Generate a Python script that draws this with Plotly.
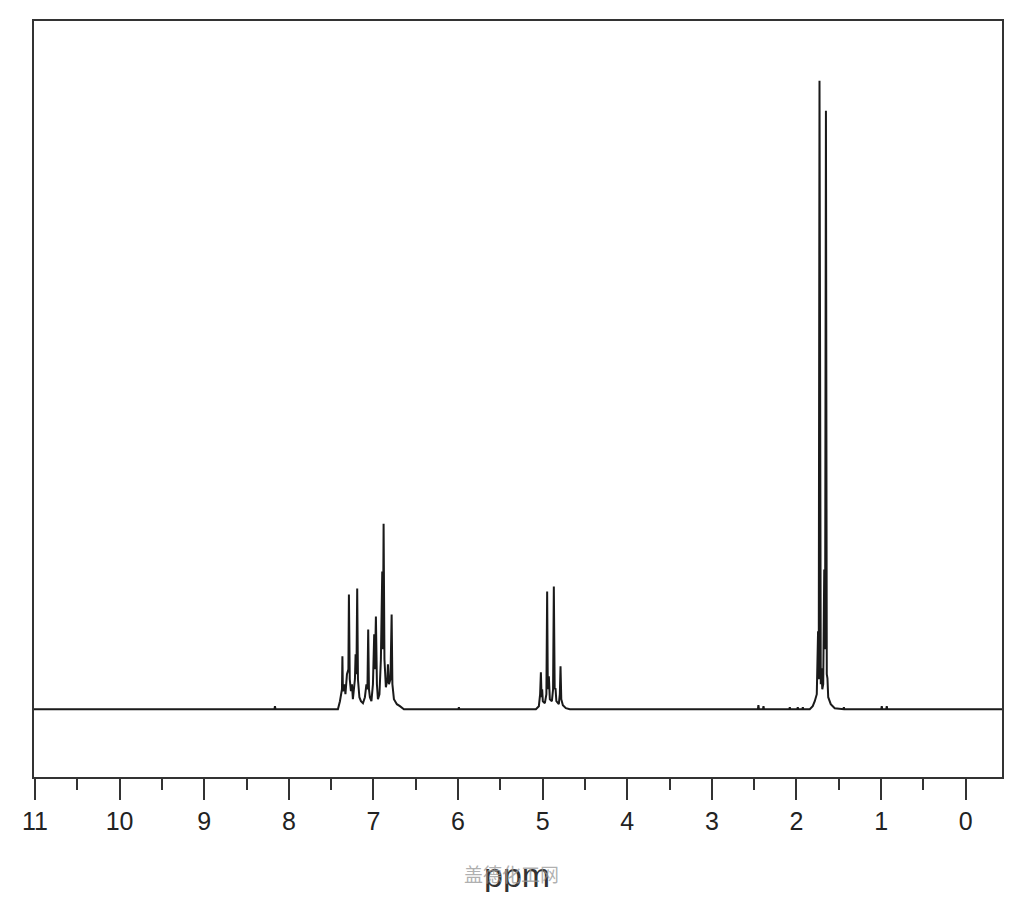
import plotly.graph_objects as go

# ---- data (chemical shift in ppm, relative intensity) ----
# aromatic multiplet 6.6-7.45 ppm
arom_ppm = [7.420, 7.396, 7.372, 7.367, 7.361, 7.343, 7.331, 7.313, 7.296, 7.290, 7.280,
            7.266, 7.254, 7.243, 7.219, 7.211, 7.201, 7.192, 7.183, 7.166, 7.148, 7.124,
            7.101, 7.083, 7.071, 7.062, 7.053, 7.042, 7.024, 7.006, 6.991, 6.983, 6.971,
            6.959, 6.947, 6.929, 6.912, 6.896, 6.888, 6.880, 6.870, 6.853, 6.835, 6.829,
            6.817, 6.799, 6.785, 6.776, 6.758, 6.723, 6.687, 6.640]
arom_int = [0, 8, 20, 53, 18, 25, 15, 35, 40, 115, 30,
            18, 25, 10, 30, 55, 35, 121, 30, 12, 8, 6,
            12, 25, 20, 80, 20, 12, 8, 25, 75, 40, 93,
            25, 10, 15, 50, 138, 60, 186, 50, 22, 30, 45,
            25, 30, 95, 25, 10, 5, 3, 0]

# quartet-like group near 4.9 ppm
mid_ppm = [5.080, 5.045, 5.030, 5.021, 5.013, 5.006, 4.998, 4.974, 4.956, 4.947, 4.939,
           4.927, 4.915, 4.891, 4.877, 4.868, 4.858, 4.848, 4.838, 4.809, 4.797, 4.789,
           4.780, 4.761, 4.726, 4.679]
mid_int = [0, 3, 15, 37, 12, 20, 8, 6, 15, 118, 20,
           33, 10, 8, 20, 123, 20, 21, 8, 5, 15, 43,
           10, 4, 1, 0]

# strong doublet near 1.7 ppm
ali_ppm = [1.843, 1.808, 1.784, 1.760, 1.745, 1.737, 1.728, 1.720, 1.713, 1.705, 1.695,
           1.684, 1.672, 1.662, 1.652, 1.642, 1.634, 1.625, 1.595, 1.548, 1.489]
ali_int = [0, 3, 8, 15, 78, 30, 630, 40, 25, 41, 20,
           25, 140, 60, 600, 35, 31, 12, 5, 1, 0]

# small impurity signals
small_ppm = [8.164, 5.990, 2.450, 2.390, 2.079, 1.985, 1.925, 1.440, 0.992, 0.933]
small_int = [3, 2, 4, 3, 2, 2, 2, 2, 3, 3]

x_range = [11.012, -0.429]
tick_vals = [11, 10, 9, 8, 7, 6, 5, 4, 3, 2, 1, 0]
tick_text = ["11", "10", "9", "8", "7", "6", "5", "4", "3", "2", "1", "0"]

# ---- assemble the spectrum trace ----
segments = []
for p, h in zip(small_ppm, small_int):
    segments.append(([p + 0.006, p, p - 0.006], [0, h, 0]))
segments.append((arom_ppm, arom_int))
segments.append((mid_ppm, mid_int))
segments.append((ali_ppm, ali_int))
segments.sort(key=lambda s: -s[0][0])

xs = [x_range[0]]
ys = [0]
for sx, sy in segments:
    xs.extend(sx)
    ys.extend(sy)
xs.append(x_range[1])
ys.append(0)

fig = go.Figure()
fig.add_trace(go.Scatter(x=xs, y=ys, mode="lines",
                         line=dict(color="#1a1a1a", width=2),
                         hoverinfo="skip", showlegend=False))

axis_color = "#333333"
fig.update_layout(
    width=1008, height=884,
    margin=dict(l=26, r=14, t=11, b=115),
    paper_bgcolor="white", plot_bgcolor="white",
    showlegend=False,
    xaxis=dict(range=x_range, showgrid=False, zeroline=False,
               showline=True, mirror=True, linecolor=axis_color, linewidth=2,
               ticks="outside", ticklen=21, tickwidth=2, tickcolor=axis_color,
               tickvals=tick_vals, ticktext=tick_text,
               tickfont=dict(family="Liberation Sans Narrow, Liberation Sans, sans-serif",
                             size=25, color="#222222"),
               minor=dict(tickvals=[10.5, 9.5, 8.5, 7.5, 6.5, 5.5, 4.5, 3.5, 2.5, 1.5, 0.5],
                          ticks="outside", ticklen=11, tickwidth=2, tickcolor=axis_color,
                          showgrid=False)),
    yaxis=dict(range=[-68, 690], showgrid=False, zeroline=False,
               showline=True, mirror=True, linecolor=axis_color, linewidth=2,
               ticks="", showticklabels=False),
    annotations=[
        dict(text="ppm", xref="paper", yref="paper", x=0.499, y=-0.130,
             xanchor="center", yanchor="middle", showarrow=False,
             font=dict(family="Liberation Sans Narrow, Liberation Sans, sans-serif",
                       size=34, color="#333333")),
        dict(text="盖德化工网", xref="paper", yref="paper", x=0.493, y=-0.128,
             xanchor="center", yanchor="middle", showarrow=False,
             font=dict(family="Noto Sans CJK SC", size=19, color="rgba(150,150,150,0.75)")),
    ],
)

fig.write_html("out.html")
